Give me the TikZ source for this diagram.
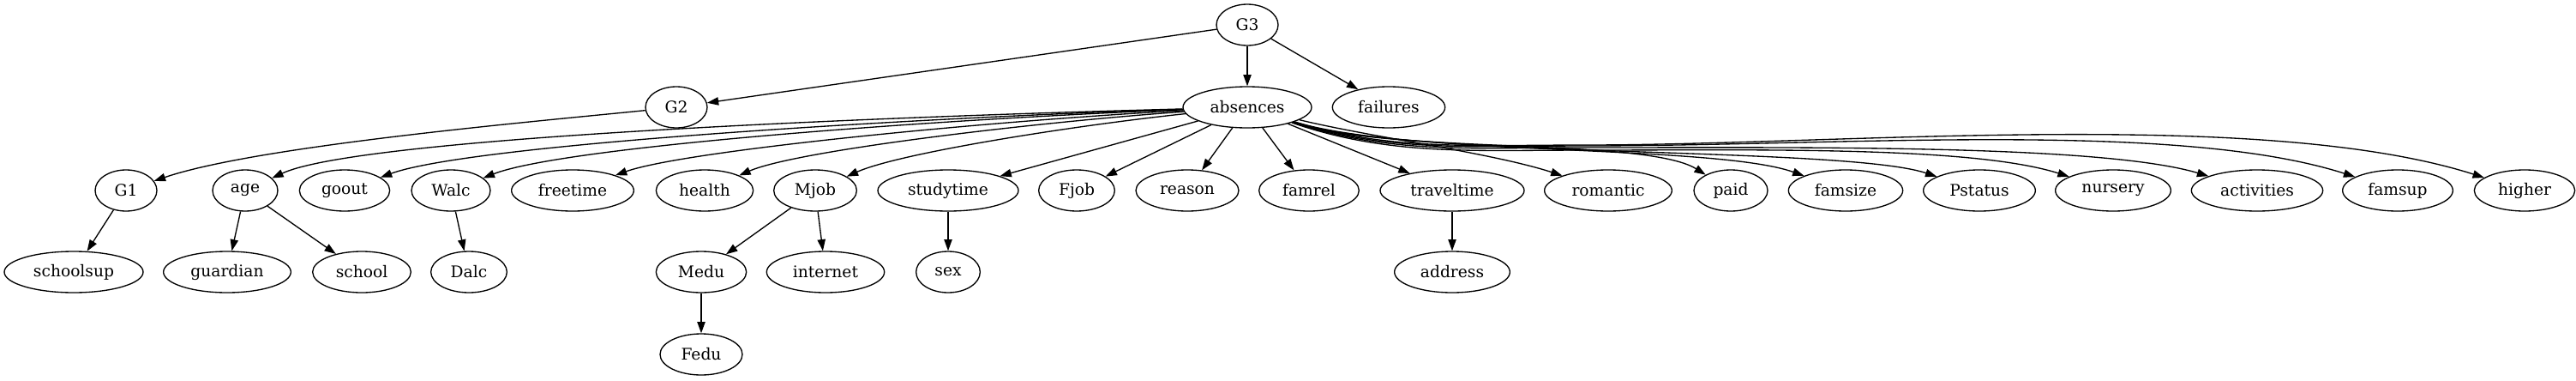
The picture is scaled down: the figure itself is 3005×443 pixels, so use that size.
\documentclass[tikz,border=0pt]{standalone}
\usepackage{fontspec}
\setmainfont{DejaVu Serif}
\usetikzlibrary{shapes.geometric,arrows.meta}

\begin{document}
\begin{tikzpicture}[x=0.75pt, y=-0.75pt,
    var/.style={draw, ellipse, line width=1pt, inner sep=0pt,
                minimum height=36pt, font=\fontsize{14}{16}\selectfont},
    edge/.style={-{Triangle[length=10pt,width=7pt]}, line width=1pt}]
    \useasboundingbox (0,0) rectangle (3005,443);

    \node[var, minimum width=54pt] (G3) at (1455,29) {G3};

    \node[var, minimum width=54pt] (G2) at (789,125) {G2};
    \node[var, minimum width=112.5pt] (abs) at (1455,125) {absences};
    \node[var, minimum width=98.5pt] (failures) at (1620,125) {failures};

    \node[var, minimum width=54pt] (G1) at (147,222) {G1};
    \node[var, minimum width=57pt] (age) at (286,222) {age};
    \node[var, minimum width=79pt] (goout) at (402,222) {goout};
    \node[var, minimum width=69pt] (Walc) at (526,222) {Walc};
    \node[var, minimum width=107pt] (freetime) at (668,222) {freetime};
    \node[var, minimum width=85pt] (health) at (822,222) {health};
    \node[var, minimum width=72.5pt] (Mjob) at (951,222) {Mjob};
    \node[var, minimum width=123pt] (studytime) at (1106,222) {studytime};
    \node[var, minimum width=66.5pt] (Fjob) at (1256,222) {Fjob};
    \node[var, minimum width=90pt] (reason) at (1385,222) {reason};
    \node[var, minimum width=87.5pt] (famrel) at (1527,222) {famrel};
    \node[var, minimum width=126pt] (traveltime) at (1694,222) {traveltime};
    \node[var, minimum width=111.5pt] (romantic) at (1876,222) {romantic};
    \node[var, minimum width=64.5pt] (paid) at (2019,222) {paid};
    \node[var, minimum width=100pt] (famsize) at (2153,222) {famsize};
    \node[var, minimum width=98pt] (Pstatus) at (2309,222) {Pstatus};
    \node[var, minimum width=101pt] (nursery) at (2465,222) {nursery};
    \node[var, minimum width=115pt] (activities) at (2633,222) {activities};
    \node[var, minimum width=96.5pt] (famsup) at (2797,222) {famsup};
    \node[var, minimum width=88pt] (higher) at (2945,222) {higher};

    \node[var, minimum width=121.5pt] (schoolsup) at (86,317) {schoolsup};
    \node[var, minimum width=111.5pt] (guardian) at (265,317) {guardian};
    \node[var, minimum width=86pt] (school) at (422,317) {school};
    \node[var, minimum width=66.5pt] (Dalc) at (547,317) {Dalc};
    \node[var, minimum width=79pt] (Medu) at (818,317) {Medu};
    \node[var, minimum width=103pt] (internet) at (963,317) {internet};
    \node[var, minimum width=56pt] (sex) at (1106,317) {sex};
    \node[var, minimum width=101pt] (address) at (1694,317) {address};

    \node[var, minimum width=72pt] (Fedu) at (818,413) {Fedu};

    \draw[edge] (G3) -- (G2);
    \draw[edge] (G3) -- (abs);
    \draw[edge] (G3) -- (failures);
    \draw[edge] (G2) .. controls (620,142) and (300,170) .. (G1);

    \draw[edge] (abs) .. controls (1030,136) and (420,160) .. (age);
    \draw[edge] (abs) .. controls (1070,137) and (550,168) .. (goout);
    \draw[edge] (abs) .. controls (1110,138) and (660,170) .. (Walc);
    \draw[edge] (abs) .. controls (1165,140) and (800,175) .. (freetime);
    \draw[edge] (abs) .. controls (1212,142) and (930,175) .. (health);
    \draw[edge] (abs) .. controls (1255,146) and (1050,178) .. (Mjob);
    \draw[edge] (abs) -- (studytime);
    \draw[edge] (abs) -- (Fjob);
    \draw[edge] (abs) -- (reason);
    \draw[edge] (abs) -- (famrel);
    \draw[edge] (abs) -- (traveltime);
    \draw[edge] (abs) .. controls (1600,160) and (1740,178) .. (romantic);
    \draw[edge] (abs) .. controls (1620,180) and (1920,160) .. (paid);
    \draw[edge] (abs) .. controls (1640,182) and (2000,168) .. (famsize);
    \draw[edge] (abs) .. controls (1640,185) and (2150,170) .. (Pstatus);
    \draw[edge] (abs) .. controls (1620,182) and (1720,175) .. (1850,175)
        .. controls (2050,175) and (2300,170) .. (nursery);
    \draw[edge] (abs) .. controls (1620,180) and (1720,172) .. (1850,172)
        .. controls (2100,172) and (2450,168) .. (activities);
    \draw[edge] (abs) .. controls (1620,178) and (1720,170) .. (1850,170)
        .. controls (2150,170) and (2540,140) .. (famsup);
    \draw[edge] (abs) .. controls (1620,176) and (1720,169) .. (1850,169)
        .. controls (2150,169) and (2640,125) .. (higher);

    \draw[edge] (G1) -- (schoolsup);
    \draw[edge] (age) -- (guardian);
    \draw[edge] (age) -- (school);
    \draw[edge] (Walc) -- (Dalc);
    \draw[edge] (Mjob) -- (Medu);
    \draw[edge] (Mjob) -- (internet);
    \draw[edge] (Medu) -- (Fedu);
    \draw[edge] (studytime) -- (sex);
    \draw[edge] (traveltime) -- (address);
\end{tikzpicture}
\end{document}
